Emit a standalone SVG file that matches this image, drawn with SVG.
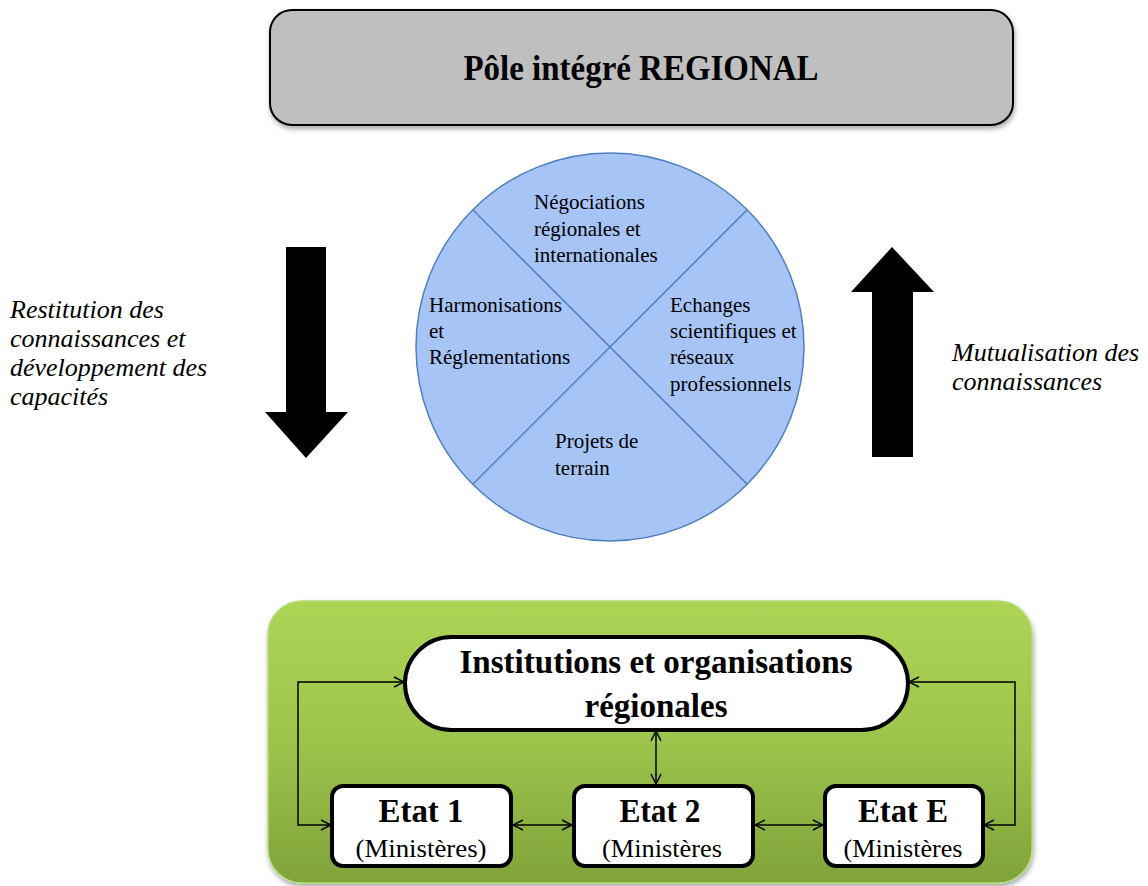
<svg xmlns="http://www.w3.org/2000/svg" width="1148" height="886" viewBox="0 0 1148 886">
<defs>
<style>
.serif{font-family:"Liberation Serif","Times New Roman",serif;fill:#000}
.ctext{font-size:21px}
.side{font-size:26px;font-style:italic}
.conn{fill:none;stroke:#000;stroke-width:1.5}
.bold{font-weight:bold}
</style>
<linearGradient id="gGreen" x1="0" y1="0" x2="0" y2="1">
<stop offset="0" stop-color="#acd556"/>
<stop offset="0.5" stop-color="#9cc44b"/>
<stop offset="1" stop-color="#7fa339"/>
</linearGradient>
<filter id="shadow" x="-5%" y="-10%" width="110%" height="125%">
<feDropShadow dx="1" dy="3" stdDeviation="2.5" flood-color="#000" flood-opacity="0.35"/>
</filter>
<marker id="ah" viewBox="0 0 12 12" refX="11" refY="6" markerWidth="12" markerHeight="12" markerUnits="userSpaceOnUse" orient="auto-start-reverse">
<path d="M1,1 L11,6 L1,11" fill="none" stroke="#000" stroke-width="1.5"/>
</marker>
</defs>
<rect width="1148" height="886" fill="#fff"/>

<g id="pole">
<rect x="270" y="10" width="743" height="115" rx="22" fill="#bfbfbf" stroke="#000" stroke-width="2" filter="url(#shadow)"/>
<text class="serif bold" x="641" y="80" font-size="36" text-anchor="middle" textLength="355" lengthAdjust="spacingAndGlyphs">Pôle intégré REGIONAL</text>
</g>

<g id="cercle">
<circle cx="610" cy="347" r="194" fill="#a6c4f6" stroke="#4f7fbf" stroke-width="1.5"/>
<line x1="473" y1="210" x2="747" y2="484" stroke="#4f7fbf" stroke-width="1.5"/>
<line x1="747" y1="210" x2="473" y2="484" stroke="#4f7fbf" stroke-width="1.5"/>
<text class="serif ctext"><tspan x="534" y="209">Négociations</tspan><tspan x="534" y="236">régionales et</tspan><tspan x="534" y="262">internationales</tspan></text>
<text class="serif ctext"><tspan x="429" y="312">Harmonisations</tspan><tspan x="429" y="338">et</tspan><tspan x="429" y="364">Réglementations</tspan></text>
<text class="serif ctext"><tspan x="670" y="312">Echanges</tspan><tspan x="670" y="338">scientifiques et</tspan><tspan x="670" y="364">réseaux</tspan><tspan x="670" y="391">professionnels</tspan></text>
<text class="serif ctext"><tspan x="555" y="448">Projets de</tspan><tspan x="555" y="475">terrain</tspan></text>
</g>

<g id="fleche-descendante">
<polygon points="286,247 326,247 326,412 348,412 306,458 265,412 286,412" fill="#000"/>
<text class="serif side"><tspan x="10" y="318">Restitution des</tspan><tspan x="10" y="347">connaissances et</tspan><tspan x="10" y="376">développement des</tspan><tspan x="10" y="405">capacités</tspan></text>
</g>

<g id="fleche-montante">
<polygon points="892,247 934,292 913,292 913,457 872,457 872,292 851,292" fill="#000"/>
<text class="serif side"><tspan x="952" y="361">Mutualisation des</tspan><tspan x="952" y="390">connaissances</tspan></text>
</g>

<g id="cadre-vert">
<rect x="268" y="601" width="764" height="282" rx="34" fill="url(#gGreen)" stroke="#b7dc7a" stroke-width="1.5" filter="url(#shadow)"/>
</g>

<g id="connecteurs">
<line class="conn" x1="656" y1="731" x2="656" y2="784" marker-start="url(#ah)" marker-end="url(#ah)"/>
<line class="conn" x1="513" y1="825" x2="572" y2="825" marker-start="url(#ah)" marker-end="url(#ah)"/>
<line class="conn" x1="755" y1="825" x2="823" y2="825" marker-start="url(#ah)" marker-end="url(#ah)"/>
<polyline class="conn" points="331,825 298,825 298,682 404,682" marker-start="url(#ah)" marker-end="url(#ah)"/>
<polyline class="conn" points="909,682 1015,682 1015,825 984,825" marker-start="url(#ah)" marker-end="url(#ah)"/>
</g>

<g id="institutions">
<rect x="405" y="637" width="503" height="93" rx="46.5" fill="#fff" stroke="#000" stroke-width="4"/>
<text class="serif bold" x="656" y="673" font-size="33" text-anchor="middle" textLength="393" lengthAdjust="spacingAndGlyphs">Institutions et organisations</text>
<text class="serif bold" x="656" y="717" font-size="33" text-anchor="middle">régionales</text>
</g>

<g id="etat1">
<rect x="332" y="786" width="179" height="80" rx="11" fill="#fff" stroke="#000" stroke-width="4"/>
<text class="serif bold" x="421" y="822" font-size="34" text-anchor="middle" textLength="85" lengthAdjust="spacingAndGlyphs">Etat 1</text>
<text class="serif" x="421" y="857" font-size="25" text-anchor="middle" textLength="131" lengthAdjust="spacingAndGlyphs">(Ministères)</text>
</g>

<g id="etat2">
<rect x="574" y="786" width="179" height="80" rx="11" fill="#fff" stroke="#000" stroke-width="4"/>
<text class="serif bold" x="660" y="822" font-size="34" text-anchor="middle" textLength="81" lengthAdjust="spacingAndGlyphs">Etat 2</text>
<text class="serif" x="662" y="857" font-size="25" text-anchor="middle" textLength="120" lengthAdjust="spacingAndGlyphs">(Ministères</text>
</g>

<g id="etatE">
<rect x="825" y="786" width="158" height="80" rx="11" fill="#fff" stroke="#000" stroke-width="4"/>
<text class="serif bold" x="903" y="822" font-size="34" text-anchor="middle" textLength="90" lengthAdjust="spacingAndGlyphs">Etat E</text>
<text class="serif" x="903" y="857" font-size="25" text-anchor="middle" textLength="119" lengthAdjust="spacingAndGlyphs">(Ministères</text>
</g>
</svg>
